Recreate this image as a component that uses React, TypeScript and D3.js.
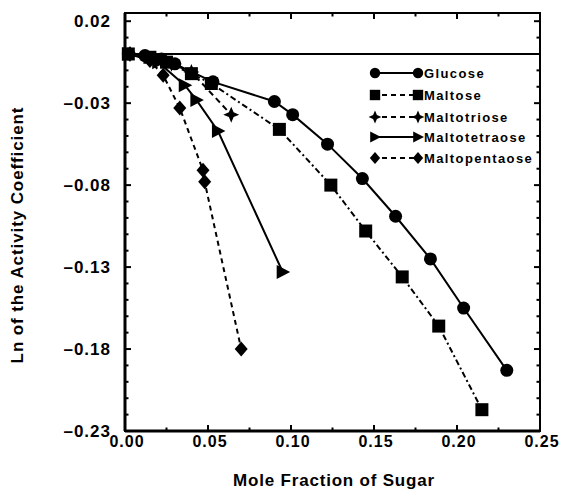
import React from "react";
import * as d3 from "d3";

const seriesNames = ["Glucose", "Maltose", "Maltotriose", "Maltotetraose", "Maltopentaose"];

const glucose: [number, number][] = [
  [0.002, 0.0], [0.012, -0.001], [0.022, -0.003], [0.030, -0.006], [0.053, -0.017],
  [0.090, -0.029], [0.101, -0.037], [0.122, -0.055], [0.143, -0.076], [0.163, -0.099],
  [0.184, -0.125], [0.204, -0.155], [0.230, -0.193],
];
const maltose: [number, number][] = [
  [0.002, 0.0], [0.015, -0.002], [0.025, -0.005], [0.040, -0.012], [0.052, -0.018],
  [0.093, -0.046], [0.124, -0.080], [0.145, -0.108], [0.167, -0.136], [0.189, -0.166],
  [0.215, -0.217],
];
const maltotriose: [number, number][] = [
  [0.003, 0.0], [0.018, -0.003], [0.028, -0.006], [0.040, -0.011], [0.064, -0.037],
];
const maltotetraose: [number, number][] = [
  [0.002, 0.0], [0.020, -0.005], [0.036, -0.019], [0.043, -0.028], [0.056, -0.047],
  [0.095, -0.133],
];
const maltopentaose: [number, number][] = [
  [0.003, 0.0], [0.015, -0.004], [0.023, -0.013], [0.033, -0.033], [0.047, -0.071],
  [0.048, -0.078], [0.070, -0.180],
];

const xMajorTicks = [0.0, 0.05, 0.1, 0.15, 0.2, 0.25];
const xTickLabels = ["0.00", "0.05", "0.10", "0.15", "0.20", "0.25"];
const yMajorTicks = [0.02, -0.03, -0.08, -0.13, -0.18, -0.23];
const yTickLabels = ["0.02", "\u20130.03", "\u20130.08", "\u20130.13", "\u20130.18", "\u20130.23"];

const W = 563, H = 489;
const L = 125, R = 540, T = 13, B = 431;

type Shape = "circle" | "square" | "star" | "triangle" | "diamond";

function markerPath(shape: Shape, s = 1): string {
  const p = d3.path();
  if (shape === "circle") {
    p.arc(0, 0, 6.5 * s, 0, Math.PI * 2);
    return p.toString();
  }
  if (shape === "square") {
    const h = 6.5 * s;
    return `M${-h},${-h}H${h}V${h}H${-h}Z`;
  }
  if (shape === "triangle") {
    return `M${-6 * s},${-7 * s}L${7.5 * s},0L${-6 * s},${7 * s}Z`;
  }
  if (shape === "diamond") {
    return `M0,${-7.5 * s}L${6.5 * s},0L0,${7.5 * s}L${-6.5 * s},0Z`;
  }
  const o = 8 * s, i = 2.4 * s;
  return `M0,${-o}L${i},${-i}L${o},0L${i},${i}L0,${o}L${-i},${i}L${-o},0L${-i},${-i}Z`;
}

const series = [
  { name: seriesNames[0], data: glucose, shape: "circle" as Shape, dash: "" },
  { name: seriesNames[1], data: maltose, shape: "square" as Shape, dash: "6,3,2,3" },
  { name: seriesNames[2], data: maltotriose, shape: "star" as Shape, dash: "6,4" },
  { name: seriesNames[3], data: maltotetraose, shape: "triangle" as Shape, dash: "" },
  { name: seriesNames[4], data: maltopentaose, shape: "diamond" as Shape, dash: "5,4" },
];

export default function App() {
  const x = d3.scaleLinear().domain([0, 0.25]).range([L, R]);
  const y = d3.scaleLinear().domain([-0.23, 0.025]).range([B, T]);
  const line = d3
    .line<[number, number]>()
    .x((d) => x(d[0]))
    .y((d) => y(d[1]));

  const yMinor = d3.range(0, 26).map((i) => +(0.02 - i * 0.01).toFixed(3));
  const xMinor = d3.range(0, 11).map((i) => +(i * 0.025).toFixed(3));

  const font = "'Liberation Sans', Arial, sans-serif";
  const legendY = [73, 95, 117, 137, 158];

  return (
    <svg
      width={W}
      height={H}
      style={{ position: "absolute", left: 0, top: 0, background: "#fff" }}
      fontFamily={font}
    >
      <rect x={0} y={0} width={W} height={H} fill="#fff" />
      <rect x={L} y={T} width={R - L} height={B - T} fill="none" stroke="#000" strokeWidth={2} />
      <line x1={L} x2={L} y1={T} y2={B} stroke="#000" strokeWidth={3} />
      <line x1={L} x2={R} y1={B} y2={B} stroke="#000" strokeWidth={3} />
      <line x1={L} x2={R} y1={y(0)} y2={y(0)} stroke="#000" strokeWidth={2} />

      {yMinor.map((v, i) => {
        const major = yMajorTicks.some((m) => Math.abs(m - v) < 1e-6);
        const len = major ? 6 : 3.5;
        return (
          <g key={"yt" + i}>
            <line x1={L} x2={L + len} y1={y(v)} y2={y(v)} stroke="#000" strokeWidth={2} />
            <line x1={R} x2={R - len} y1={y(v)} y2={y(v)} stroke="#000" strokeWidth={2} />
          </g>
        );
      })}
      {xMinor.map((v, i) => {
        const major = xMajorTicks.some((m) => Math.abs(m - v) < 1e-6);
        const len = major ? 6 : 3.5;
        return (
          <g key={"xt" + i}>
            <line x1={x(v)} x2={x(v)} y1={B} y2={B - len} stroke="#000" strokeWidth={2} />
            <line x1={x(v)} x2={x(v)} y1={T} y2={T + len} stroke="#000" strokeWidth={2} />
          </g>
        );
      })}

      {yMajorTicks.map((v, i) => (
        <text
          key={"yl" + i}
          x={111}
          y={y(v)}
          dy="0.36em"
          textAnchor="end"
          fontSize={17}
          fontWeight="bold"
          letterSpacing={1}
        >
          {yTickLabels[i]}
        </text>
      ))}
      {xMajorTicks.map((v, i) => (
        <text
          key={"xl" + i}
          x={x(v) + 2}
          y={441}
          dy="0.36em"
          textAnchor="middle"
          fontSize={16}
          fontWeight="bold"
          letterSpacing={1}
        >
          {xTickLabels[i]}
        </text>
      ))}

      <text x={334} y={480} dy="0.36em" textAnchor="middle" fontSize={17} fontWeight="bold" letterSpacing={0.8}>
        Mole Fraction of Sugar
      </text>
      <text
        transform={`translate(17,235) rotate(-90)`}
        dy="0.36em"
        textAnchor="middle"
        fontSize={17}
        fontWeight="bold"
        letterSpacing={0.9}
      >
        Ln of the Activity Coefficient
      </text>

      {series.map((s, si) => (
        <g key={"s" + si}>
          <path
            d={line(s.data) || ""}
            fill="none"
            stroke="#000"
            strokeWidth={2}
            strokeDasharray={s.dash || undefined}
          />
          {s.data.map((d, di) => (
            <path
              key={di}
              d={markerPath(s.shape)}
              transform={`translate(${x(d[0])},${y(d[1])})`}
              fill="#000"
            />
          ))}
        </g>
      ))}

      {series.map((s, si) => (
        <g key={"lg" + si} transform={`translate(0,${legendY[si]})`}>
          <line x1={373} x2={418} y1={0} y2={0} stroke="#000" strokeWidth={2} strokeDasharray={s.dash ? "5,4" : undefined} />
          <path d={markerPath(s.shape, 0.8)} transform="translate(375,0)" fill="#000" />
          <path d={markerPath(s.shape, 0.8)} transform="translate(418,0)" fill="#000" />
          <text x={424} y={0} dy="0.36em" fontSize={13} fontWeight="bold" letterSpacing={1.4}>
            {s.name}
          </text>
        </g>
      ))}
    </svg>
  );
}
